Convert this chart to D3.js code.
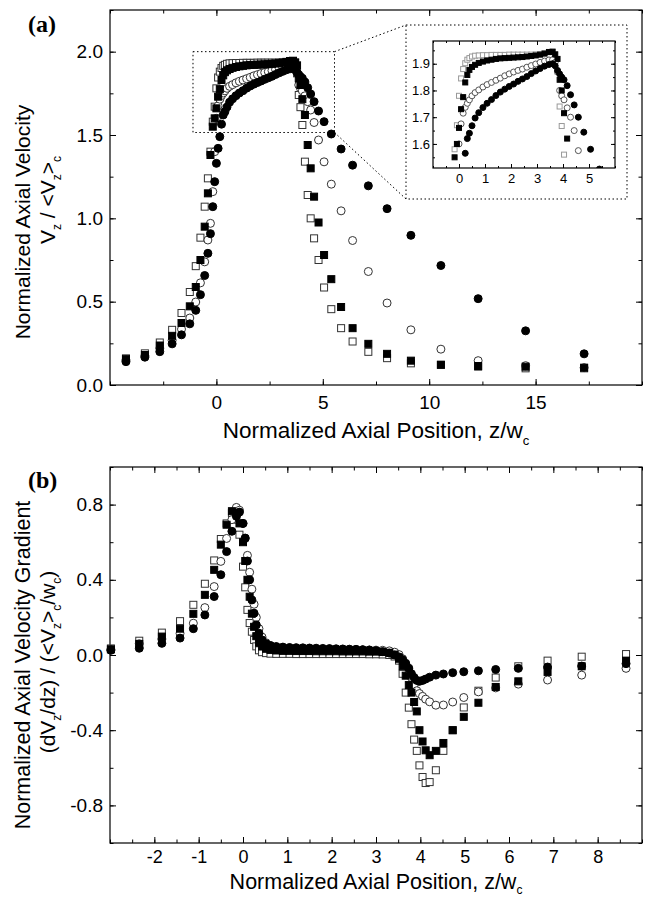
<!DOCTYPE html>
<html>
<head>
<meta charset="utf-8">
<script src="https://cdn.jsdelivr.net/npm/d3@7"></script>
<style>
body { margin: 0; background: #fff; }
svg text { font-family: "Liberation Sans", Arial, sans-serif; }
</style>
</head>
<body>
<div id="chart"></div>
<script>
// ---- data ----
// (a) axial velocity, shared z positions for the four runs
var zTop = [-4.25, -3.36, -2.66, -2.08, -1.64, -1.25, -0.97, -0.75, -0.55, -0.40,
    -0.28, -0.17, -0.08, 0.00, 0.08, 0.16, 0.24, 0.32, 0.40, 0.50,
    0.62, 0.76, 0.92, 1.08, 1.25, 1.42, 1.59, 1.76, 1.93, 2.10,
    2.27, 2.44, 2.61, 2.78, 2.95, 3.12, 3.29, 3.46, 3.60, 3.70,
    3.79, 3.87, 3.95, 4.04, 4.16, 4.29, 4.43, 4.59, 4.80, 5.06,
    5.40, 5.86, 6.40, 7.14, 8.02, 9.14, 10.55, 12.30, 14.53, 17.28];
var vOpenSq = [0.160, 0.190, 0.255, 0.331, 0.432, 0.558, 0.713, 0.884, 1.070, 1.240,
    1.400, 1.580, 1.670, 1.780, 1.845, 1.880, 1.902, 1.915, 1.921, 1.927,
    1.930, 1.931, 1.932, 1.932, 1.933, 1.933, 1.933, 1.933, 1.934, 1.934,
    1.934, 1.934, 1.934, 1.934, 1.935, 1.936, 1.939, 1.943, 1.945, 1.935,
    1.870, 1.740, 1.667, 1.560, 1.340, 1.140, 1.000, 0.880, 0.750, 0.585,
    0.455, 0.341, 0.261, 0.199, 0.161, 0.130, 0.120, 0.110, 0.100, 0.100];
var vFillSq = [0.155, 0.180, 0.237, 0.295, 0.372, 0.472, 0.588, 0.750, 0.950, 1.150,
    1.380, 1.550, 1.600, 1.660, 1.730, 1.775, 1.830, 1.858, 1.877, 1.888,
    1.896, 1.903, 1.908, 1.912, 1.915, 1.918, 1.920, 1.921, 1.922, 1.923,
    1.924, 1.925, 1.927, 1.929, 1.931, 1.934, 1.938, 1.944, 1.945, 1.935,
    1.918, 1.840, 1.800, 1.715, 1.620, 1.440, 1.300, 1.130, 0.975, 0.780,
    0.635, 0.468, 0.341, 0.247, 0.187, 0.146, 0.122, 0.114, 0.110, 0.104];
var vOpenCi = [0.150, 0.175, 0.221, 0.268, 0.335, 0.402, 0.498, 0.613, 0.739, 0.870,
    0.970, 1.160, 1.400, 1.600, 1.675, 1.715, 1.737, 1.752, 1.765, 1.780,
    1.792, 1.802, 1.813, 1.822, 1.830, 1.838, 1.846, 1.855, 1.862, 1.869,
    1.875, 1.880, 1.887, 1.893, 1.899, 1.905, 1.910, 1.914, 1.915, 1.905,
    1.870, 1.800, 1.780, 1.765, 1.735, 1.700, 1.650, 1.575, 1.470, 1.339,
    1.205, 1.045, 0.867, 0.681, 0.492, 0.331, 0.215, 0.146, 0.116, 0.104];
var vFillCi = [0.140, 0.167, 0.200, 0.247, 0.301, 0.367, 0.448, 0.542, 0.657, 0.790,
    0.908, 1.070, 1.220, 1.330, 1.420, 1.490, 1.565, 1.620, 1.640, 1.668,
    1.697, 1.717, 1.736, 1.752, 1.766, 1.781, 1.794, 1.805, 1.815, 1.824,
    1.834, 1.843, 1.852, 1.863, 1.873, 1.882, 1.891, 1.897, 1.900, 1.892,
    1.875, 1.862, 1.850, 1.840, 1.818, 1.784, 1.746, 1.700, 1.644, 1.580,
    1.506, 1.416, 1.319, 1.195, 1.058, 0.898, 0.717, 0.518, 0.325, 0.187];

// (b) axial velocity gradient
var zBot = [-2.98, -2.34, -1.83, -1.42, -1.12, -0.86, -0.65, -0.50, -0.37, -0.25,
    -0.15, -0.08, 0.00, 0.05, 0.10, 0.15, 0.20, 0.25, 0.30, 0.36,
    0.43, 0.52, 0.62, 0.75, 0.90, 1.05, 1.20, 1.35, 1.50, 1.65,
    1.80, 1.95, 2.10, 2.25, 2.40, 2.55, 2.70, 2.85, 3.00, 3.15,
    3.30, 3.42, 3.52, 3.60, 3.67, 3.74, 3.80, 3.86, 3.92, 3.98,
    4.05, 4.12, 4.21, 4.35, 4.52, 4.73, 4.98, 5.31, 5.70, 6.21,
    6.87, 7.64, 8.64];
var gOpenSq = [0.035, 0.076, 0.119, 0.180, 0.267, 0.379, 0.503, 0.617, 0.700, 0.755,
    0.720, 0.640, 0.470, 0.360, 0.240, 0.170, 0.124, 0.080, 0.046, 0.025,
    0.015, 0.010, 0.007, 0.006, 0.006, 0.006, 0.005, 0.005, 0.005, 0.005,
    0.005, 0.005, 0.005, 0.005, 0.005, 0.005, 0.005, 0.004, 0.004, 0.003,
    0.000, -0.008, -0.030, -0.100, -0.200, -0.280, -0.368, -0.450, -0.510, -0.587,
    -0.649, -0.681, -0.676, -0.613, -0.510, -0.400, -0.279, -0.190, -0.120, -0.060,
    -0.030, -0.009, 0.005];
var gFillSq = [0.030, 0.059, 0.098, 0.140, 0.219, 0.320, 0.453, 0.587, 0.693, 0.765,
    0.755, 0.700, 0.600, 0.500, 0.400, 0.310, 0.220, 0.150, 0.100, 0.065,
    0.045, 0.033, 0.027, 0.024, 0.022, 0.022, 0.021, 0.021, 0.021, 0.020,
    0.020, 0.020, 0.020, 0.019, 0.019, 0.019, 0.019, 0.018, 0.018, 0.016,
    0.012, 0.002, -0.020, -0.060, -0.110, -0.160, -0.200, -0.250, -0.300, -0.400,
    -0.460, -0.507, -0.533, -0.510, -0.468, -0.400, -0.329, -0.254, -0.170, -0.140,
    -0.090, -0.060, -0.030];
var gOpenCi = [0.030, 0.060, 0.085, 0.115, 0.169, 0.252, 0.364, 0.498, 0.620, 0.720,
    0.785, 0.770, 0.700, 0.620, 0.530, 0.440, 0.350, 0.270, 0.200, 0.140,
    0.095, 0.065, 0.050, 0.042, 0.038, 0.036, 0.035, 0.034, 0.033, 0.032,
    0.031, 0.031, 0.030, 0.030, 0.029, 0.029, 0.028, 0.027, 0.026, 0.025,
    0.022, 0.015, 0.002, -0.020, -0.050, -0.080, -0.120, -0.160, -0.190, -0.205,
    -0.220, -0.235, -0.249, -0.267, -0.266, -0.250, -0.226, -0.196, -0.175, -0.155,
    -0.133, -0.107, -0.071];
var gFillCi = [0.025, 0.036, 0.062, 0.090, 0.140, 0.213, 0.311, 0.427, 0.550, 0.658,
    0.738, 0.760, 0.700, 0.622, 0.500, 0.400, 0.293, 0.222, 0.160, 0.116,
    0.080, 0.060, 0.050, 0.045, 0.042, 0.040, 0.039, 0.038, 0.037, 0.036,
    0.035, 0.034, 0.033, 0.032, 0.031, 0.030, 0.028, 0.026, 0.023, 0.018,
    0.010, 0.000, -0.010, -0.025, -0.044, -0.070, -0.100, -0.120, -0.135, -0.140,
    -0.135, -0.128, -0.118, -0.107, -0.101, -0.094, -0.089, -0.084, -0.077, -0.071,
    -0.064, -0.059, -0.046];

// tick labels
var topXTicks = [0, 5, 10, 15];
var topYTicks = [0, 0.5, 1.0, 1.5, 2.0];
var botXTicks = [-2, -1, 0, 1, 2, 3, 4, 5, 6, 7, 8];
var botYTicks = [-0.8, -0.4, 0, 0.4, 0.8];
var insetXTicks = [0, 1, 2, 3, 4, 5];
var insetYTicks = [1.6, 1.7, 1.8, 1.9];
var zoomBox = [-1.1, 5.55, 1.515, 2.0]; // zoomed region drawn in (a)

var W = 645, H = 897;
var svg = d3.select("#chart").append("svg")
    .attr("width", W)
    .attr("height", H);

var xA = d3.scaleLinear().domain([-5, 20]).range([110, 642]);
var yA = d3.scaleLinear().domain([0, 2.25]).range([385, 10]);
var xB = d3.scaleLinear().domain([-3, 9]).range([110, 642]);
var yB = d3.scaleLinear().domain([-1, 1]).range([843, 467]);
var xI = d3.scaleLinear().domain([-1, 6]).range([433, 615]);
var yI = d3.scaleLinear().domain([1.51, 1.985]).range([168, 41]);

function fix1(d) { return d.toFixed(1); }
function plain(d) { return String(d); }

// frame with inward ticks on all four sides
function frameAxes(g, x, y, o) {
    var x0 = x.range()[0], x1 = x.range()[1], y0 = y.range()[0], y1 = y.range()[1];
    function add(axis, tx, ty) {
        return g.append("g").attr("transform", "translate(" + tx + "," + ty + ")").call(axis);
    }
    add(d3.axisBottom(x).tickValues(o.xMinor).tickSize(-o.minor).tickFormat(""), 0, y0);
    add(d3.axisBottom(x).tickValues(o.xMajor).tickSize(-o.major).tickPadding(o.xPad).tickFormat(o.fmtX), 0, y0);
    add(d3.axisTop(x).tickValues(o.xMinor).tickSize(-o.minor).tickFormat(""), 0, y1);
    add(d3.axisTop(x).tickValues(o.xMajor).tickSize(-o.major).tickFormat(""), 0, y1);
    add(d3.axisLeft(y).tickValues(o.yMinor).tickSize(-o.minor).tickFormat(""), x0, 0);
    add(d3.axisLeft(y).tickValues(o.yMajor).tickSize(-o.major).tickPadding(o.yPad).tickFormat(o.fmtY), x0, 0);
    add(d3.axisRight(y).tickValues(o.yMinor).tickSize(-o.minor).tickFormat(""), x1, 0);
    add(d3.axisRight(y).tickValues(o.yMajor).tickSize(-o.major).tickFormat(""), x1, 0);

    g.selectAll(".domain").remove();
    g.selectAll(".tick line").attr("stroke", "#000").attr("stroke-width", 1);
    g.selectAll(".tick text")
        .attr("fill", "#000")
        .attr("font-size", o.fontSize)
        .attr("font-family", "Liberation Sans, Arial, sans-serif");
    g.append("rect")
        .attr("x", x0).attr("y", y1)
        .attr("width", x1 - x0).attr("height", y0 - y1)
        .attr("fill", "none").attr("stroke", "#000").attr("stroke-width", 1.2);
}

function drawSeries(g, x, y, zs, vs, s, size) {
    var pts = zs.map(function (z, i) { return [z, vs[i]]; });
    var sel;
    if (s.shape == "square") {
        sel = g.selectAll(null).data(pts).enter().append("rect")
            .attr("x", function (d) { return x(d[0]) - size / 2; })
            .attr("y", function (d) { return y(d[1]) - size / 2; })
            .attr("width", size)
            .attr("height", size);
    } else {
        sel = g.selectAll(null).data(pts).enter().append("circle")
            .attr("cx", function (d) { return x(d[0]); })
            .attr("cy", function (d) { return y(d[1]); })
            .attr("r", size / 2 + 0.5);
    }
    sel.attr("fill", s.filled ? "#000" : "#fff")
        .attr("stroke", s.filled ? "#000" : s.stroke)
        .attr("stroke-width", 1);
}

// text with subscripts: parts = [[string, isSub], ...]
function richText(t, parts, subSize, shift) {
    var down = false;
    parts.forEach(function (p) {
        var ts = t.append("tspan").text(p[0]);
        if (p[1] && !down) { ts.attr("dy", shift).attr("font-size", subSize); down = true; }
        else if (p[1]) { ts.attr("font-size", subSize); }
        else if (down) { ts.attr("dy", -shift); down = false; }
    });
}

var styleTop = [
    { shape: "square", filled: false, stroke: "#333" },
    { shape: "circle", filled: false, stroke: "#333" },
    { shape: "square", filled: true },
    { shape: "circle", filled: true }
];
var styleInset = [
    { shape: "square", filled: false, stroke: "#999" },
    { shape: "circle", filled: false, stroke: "#555" },
    { shape: "square", filled: true },
    { shape: "circle", filled: true }
];
var topVals = [vOpenSq, vOpenCi, vFillSq, vFillCi];
var botVals = [gOpenSq, gOpenCi, gFillSq, gFillCi];

// ---------- panel (a) ----------
var ga = svg.append("g");
frameAxes(ga, xA, yA, {
    xMajor: topXTicks, xMinor: d3.range(-5, 20.01, 2.5),
    yMajor: topYTicks, yMinor: d3.range(0, 2.26, 0.25),
    major: 6, minor: 3.5, fontSize: 19, xPad: 11, yPad: 7,
    fmtX: plain, fmtY: fix1
});
topVals.forEach(function (v, i) {
    drawSeries(ga, xA, yA, zTop, v, styleTop[i], 7);
});

// dotted zoom box and leader lines
var dots = "1.5,2.5";
ga.append("rect")
    .attr("x", xA(zoomBox[0])).attr("y", yA(zoomBox[3]))
    .attr("width", xA(zoomBox[1]) - xA(zoomBox[0]))
    .attr("height", yA(zoomBox[2]) - yA(zoomBox[3]))
    .attr("fill", "none").attr("stroke", "#000").attr("stroke-dasharray", dots);
ga.append("line")
    .attr("x1", xA(zoomBox[1])).attr("y1", yA(zoomBox[3]))
    .attr("x2", 406).attr("y2", 25)
    .attr("stroke", "#000").attr("stroke-dasharray", dots);
ga.append("line")
    .attr("x1", xA(zoomBox[1])).attr("y1", yA(zoomBox[2]))
    .attr("x2", 406).attr("y2", 199)
    .attr("stroke", "#000").attr("stroke-dasharray", dots);
ga.append("rect")
    .attr("x", 406).attr("y", 25).attr("width", 221).attr("height", 174)
    .attr("fill", "#fff").attr("stroke", "#000").attr("stroke-dasharray", dots);

// inset
var gi = svg.append("g");
svg.append("clipPath").attr("id", "insetClip").append("rect")
    .attr("x", 433).attr("y", 41).attr("width", 182).attr("height", 127);
var gid = gi.append("g").attr("clip-path", "url(#insetClip)");
topVals.forEach(function (v, i) {
    drawSeries(gid, xI, yI, zTop, v, styleInset[i], 5);
});
frameAxes(gi, xI, yI, {
    xMajor: insetXTicks, xMinor: d3.range(-1, 6.01, 0.5),
    yMajor: insetYTicks, yMinor: d3.range(1.55, 1.96, 0.05),
    major: 4, minor: 2, fontSize: 13, xPad: 6, yPad: 3,
    fmtX: plain, fmtY: fix1
});

ga.append("text").attr("x", 28).attr("y", 32)
    .style("font-family", "Liberation Serif, Times New Roman, serif")
    .attr("font-weight", "bold").attr("font-size", 24).text("(a)");

var tA1 = ga.append("text").attr("transform", "translate(30,222) rotate(-90)")
    .attr("text-anchor", "middle").attr("font-size", 21);
tA1.text("Normalized Axial Velocity");
var tA2 = ga.append("text").attr("transform", "translate(55,200) rotate(-90)")
    .attr("text-anchor", "middle").attr("font-size", 21);
richText(tA2, [["V", 0], ["z", 1], [" / <V", 0], ["z", 1], [">", 0], ["c", 1]], 12, 6);

var tAx = ga.append("text").attr("x", 376).attr("y", 438)
    .attr("text-anchor", "middle").attr("font-size", 22.5);
richText(tAx, [["Normalized Axial Position, z/w", 0], ["c", 1]], 13, 7);

// ---------- panel (b) ----------
var gb = svg.append("g");
frameAxes(gb, xB, yB, {
    xMajor: botXTicks, xMinor: d3.range(-3, 9.01, 0.5),
    yMajor: botYTicks, yMinor: d3.range(-1, 1.01, 0.2),
    major: 6, minor: 3.5, fontSize: 18, xPad: 7, yPad: 7,
    fmtX: plain, fmtY: fix1
});
gb.selectAll(".tick text").filter(function () {
    return d3.select(this).attr("dy") == "0.32em";
}).attr("font-size", 19);
botVals.forEach(function (v, i) {
    drawSeries(gb, xB, yB, zBot, v, styleTop[i], 7);
});

gb.append("text").attr("x", 28).attr("y", 488)
    .style("font-family", "Liberation Serif, Times New Roman, serif")
    .attr("font-weight", "bold").attr("font-size", 24).text("(b)");

var tB1 = gb.append("text").attr("transform", "translate(30,665) rotate(-90)")
    .attr("text-anchor", "middle").attr("font-size", 21.5);
tB1.text("Normalized Axial Velocity Gradient");
var tB2 = gb.append("text").attr("transform", "translate(55,662) rotate(-90)")
    .attr("text-anchor", "middle").attr("font-size", 21);
richText(tB2, [["(dV", 0], ["z", 1], ["/dz) / (<V", 0], ["z", 1], [">", 0], ["c", 1],
    ["/w", 0], ["c", 1], [")", 0]], 12, 6);

var tBx = gb.append("text").attr("x", 376).attr("y", 889)
    .attr("text-anchor", "middle").attr("font-size", 21.5);
richText(tBx, [["Normalized Axial Position, z/w", 0], ["c", 1]], 12, 5);
</script>
</body>
</html>
